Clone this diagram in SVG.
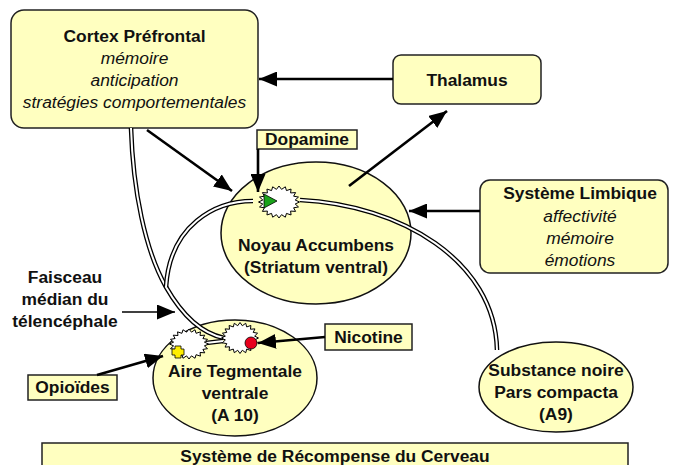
<svg xmlns="http://www.w3.org/2000/svg" xmlns:xlink="http://www.w3.org/1999/xlink" width="674" height="465" viewBox="0 0 674 465">
<style>
  .box{fill:#FFFFC0;stroke:#222;stroke-width:1.5}
  .lbl{fill:#FFFFC0;stroke:#222;stroke-width:1.5}
  .ell{fill:#FFFFC0;stroke:#111;stroke-width:1.5}
  text{font-family:"Liberation Sans",Arial,sans-serif;font-size:17.4px;fill:#111;text-anchor:middle}
  .b{font-weight:bold}
  .i{font-style:italic}
  .arr{stroke:#000;stroke-width:2.6;fill:none;marker-end:url(#ah)}
  .arr-thin{stroke:#000;stroke-width:1.6;fill:none;marker-end:url(#ah)}
  .fo{fill:none;stroke:#000;stroke-width:4.6}
  .fi{fill:none;stroke:#fff;stroke-width:2}
  .star{fill:#fff;stroke:#000;stroke-width:1}
</style>
<defs>
  <marker id="ah" markerUnits="userSpaceOnUse" markerWidth="19" markerHeight="15" refX="18" refY="7.5" orient="auto">
    <path d="M0,0 L18,7.5 L0,15 z" fill="#000"/>
  </marker>
  <polygon id="star" vector-effect="non-scaling-stroke" points="10,0 7.90,1.25 9.51,3.09 7.13,3.63 8.09,5.88 5.66,5.66 5.88,8.09 3.63,7.13 3.09,9.51 1.25,7.90 0,10 -1.25,7.90 -3.09,9.51 -3.63,7.13 -5.88,8.09 -5.66,5.66 -8.09,5.88 -7.13,3.63 -9.51,3.09 -7.90,1.25 -10,0 -7.90,-1.25 -9.51,-3.09 -7.13,-3.63 -8.09,-5.88 -5.66,-5.66 -5.88,-8.09 -3.63,-7.13 -3.09,-9.51 -1.25,-7.90 0,-10 1.25,-7.90 3.09,-9.51 3.63,-7.13 5.88,-8.09 5.66,-5.66 8.09,-5.88 7.13,-3.63 9.51,-3.09 7.90,-1.25"/>
  <path id="f1" d="M131,128 C133,190 145,250 166,287 C182,315 200,333 224,338"/>
  <path id="f2" d="M253,201 C215,201 170,225 166,287"/>
  <path id="f3" d="M300,200 C400,205 495,260 497,350"/>
  <path id="f4" d="M206,343 L223,341"/>
</defs>

<g id="cortex">
  <rect class="box" x="11" y="10" width="247" height="118" rx="13"/>
  <text class="b" x="134.5" y="42">Cortex Préfrontal</text>
  <text class="i" x="134.5" y="64">mémoire</text>
  <text class="i" x="134.5" y="86">anticipation</text>
  <text class="i" x="134.5" y="108">stratégies comportementales</text>
</g>
<g id="thalamus">
  <rect class="box" x="393" y="55" width="148" height="49" rx="8"/>
  <text class="b" x="467" y="86">Thalamus</text>
</g>
<g id="limbique">
  <rect class="box" x="480" y="180" width="188" height="93" rx="10"/>
  <text class="b" x="580" y="199">Système Limbique</text>
  <text class="i" x="580" y="222">affectivité</text>
  <text class="i" x="580" y="244">mémoire</text>
  <text class="i" x="580" y="266">émotions</text>
</g>
<g id="noyau">
  <ellipse class="ell" cx="316" cy="233" rx="95" ry="71"/>
  <text class="b" x="316" y="251">Noyau Accumbens</text>
  <text class="b" x="316" y="273">(Striatum ventral)</text>
</g>
<g id="vta">
  <ellipse class="ell" cx="235" cy="378" rx="82" ry="58"/>
  <text class="b" x="235" y="377">Aire Tegmentale</text>
  <text class="b" x="235" y="399">ventrale</text>
  <text class="b" x="235" y="421">(A 10)</text>
</g>
<g id="substance-noire">
  <ellipse class="ell" cx="556" cy="387" rx="77" ry="45"/>
  <text class="b" x="556" y="376">Substance noire</text>
  <text class="b" x="556" y="398">Pars compacta</text>
  <text class="b" x="556" y="420">(A9)</text>
</g>
<g id="dopamine">
  <rect class="lbl" x="257" y="130" width="100" height="19"/>
  <text class="b" x="307" y="145">Dopamine</text>
</g>
<g id="nicotine">
  <rect class="lbl" x="325" y="324" width="87" height="26"/>
  <text class="b" x="368.5" y="343">Nicotine</text>
</g>
<g id="opioides">
  <rect class="lbl" x="28" y="375" width="89" height="25"/>
  <text class="b" x="72.5" y="393">Opioïdes</text>
</g>
<g id="faisceau">
  <text class="b" x="65" y="283">Faisceau</text>
  <text class="b" x="65" y="305">médian du</text>
  <text class="b" x="65" y="327">télencéphale</text>
</g>
<g id="titre">
  <rect class="lbl" x="42" y="443" width="586" height="30"/>
  <text class="b" x="335" y="462">Système de Récompense du Cerveau</text>
</g>

<g id="connectors">
  <use href="#f1" class="fo"/><use href="#f1" class="fi"/>
  <use href="#f2" class="fo"/><use href="#f2" class="fi"/>
  <use href="#f3" class="fo"/><use href="#f3" class="fi"/>
  <use href="#f4" class="fo"/><use href="#f4" class="fi"/>
  <path class="arr" d="M393,79 L259,79"/>
  <path class="arr" d="M147,130 L232,191"/>
  <path class="arr" d="M258,149 L258,192"/>
  <path class="arr" d="M349,186 L447,111"/>
  <path class="arr" d="M480,211 L409,211"/>
  <path class="arr" d="M325,337 L258,343"/>
  <path class="arr" d="M97,375 L163,356"/>
  <path class="arr-thin" d="M122,312 L175,312"/>
</g>

<g id="synapses">
  <use href="#star" class="star" transform="translate(279,202) scale(2.05,1.6)"/>
  <polygon points="264,194 277,201 264,208" fill="#1aa31a" stroke="#000" stroke-width="0.8"/>
  <use href="#star" class="star" transform="translate(189,344) scale(1.95,1.5)"/>
  <use href="#star" class="star" transform="translate(240,338) scale(1.85,1.55)"/>
  <path d="M175,346 h6 v3 h3 v6 h-3 v3 h-6 v-3 h-3 v-6 h3 z" fill="#ffee00" stroke="#000" stroke-width="0.8"/>
  <circle cx="251" cy="343" r="6" fill="#e8001c" stroke="#000" stroke-width="0.8"/>
</g>
</svg>
